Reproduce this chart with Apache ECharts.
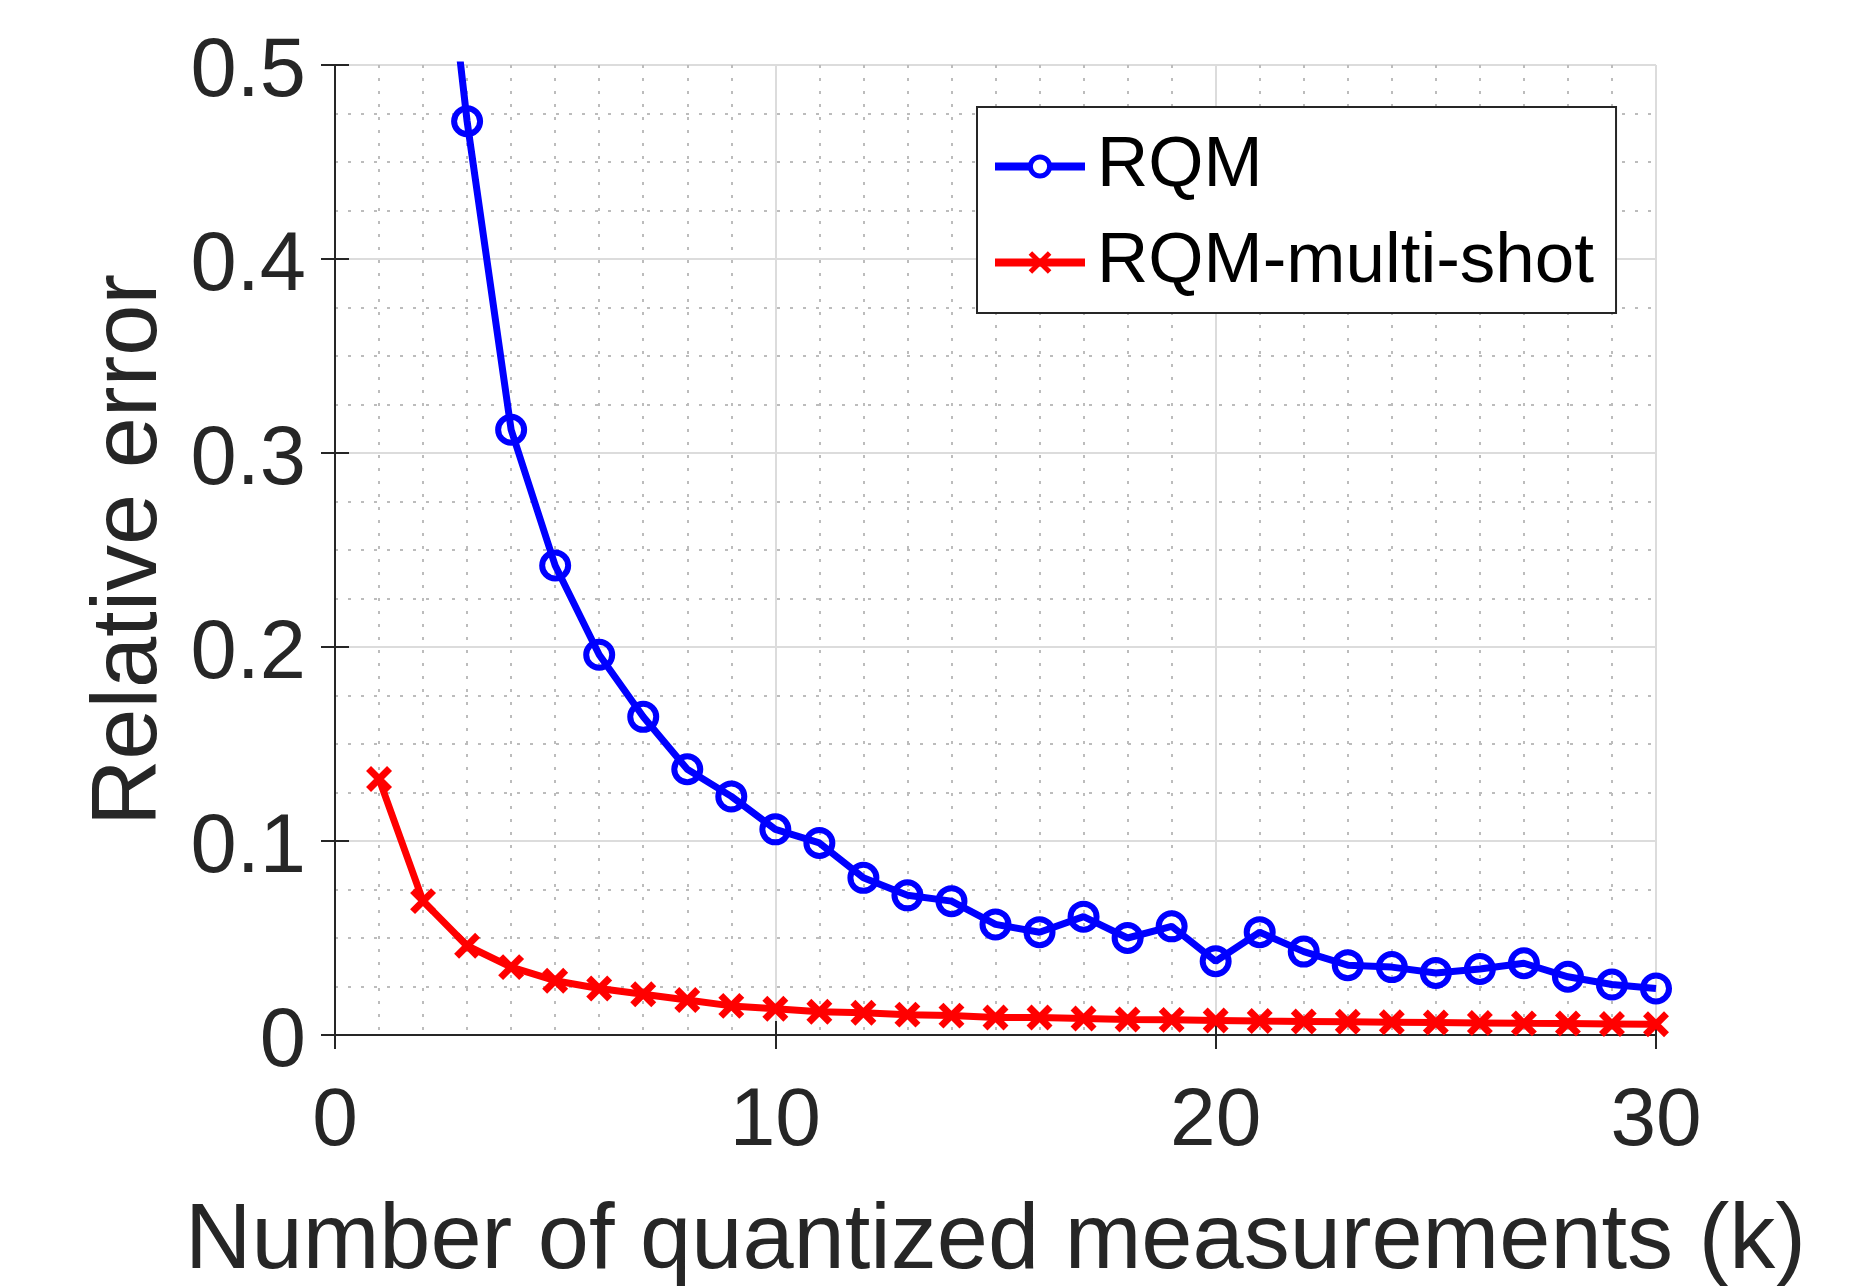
<!DOCTYPE html>
<html>
<head>
<meta charset="utf-8">
<script src="https://cdn.jsdelivr.net/npm/echarts@6/dist/echarts.min.js"></script>
<style>
html,body{margin:0;padding:0;background:#fff;}
#chart{width:1859px;height:1286px;}
</style>
</head>
<body>
<div id="chart"></div>
<script>
const kValues = [1,2,3,4,5,6,7,8,9,10,11,12,13,14,15,16,17,18,19,20,21,22,23,24,25,26,27,28,29,30];
const rqm = [1.0,0.67,0.471,0.312,0.242,0.196,0.164,0.137,0.123,0.106,0.099,0.081,0.072,0.069,0.057,0.053,0.061,0.050,0.056,0.038,0.053,0.043,0.036,0.035,0.032,0.034,0.037,0.030,0.026,0.024];
const rqmMulti = [0.132,0.069,0.046,0.035,0.028,0.024,0.021,0.018,0.015,0.0135,0.012,0.0115,0.0105,0.010,0.009,0.009,0.0085,0.008,0.0078,0.0075,0.0072,0.007,0.0068,0.0066,0.0064,0.0062,0.006,0.0059,0.0057,0.0055];
const seriesNames = ['RQM','RQM-multi-shot'];
const xAxisTitle = 'Number of quantized measurements (k)';
const yAxisTitle = 'Relative error';

const chart = echarts.init(document.getElementById('chart'), null, {renderer:'canvas'});
const font = '"Liberation Sans", Arial, Helvetica, sans-serif';
const axisColor = '#262626';
const crossPath = 'path://M0,0 L10,10 M10,0 L0,10';

const gridLine = {show:true, lineStyle:{color:'#dcdcdc', width:2, type:'solid'}};
const minorGrid = {show:true, lineStyle:{color:'#bcbcbc', width:2, type:[3,10]}};

const option = {
  backgroundColor:'#fff',
  animation:false,
  grid:{left:335, top:65, width:1321, height:970, containLabel:false, outerBoundsMode:'none'},
  legend:{
    orient:'vertical', left:977, top:107,
    padding:[24,22,15,14], itemGap:25, itemWidth:90, itemHeight:24,
    backgroundColor:'#fff', borderColor:axisColor, borderWidth:2, borderRadius:0,
    textStyle:{fontFamily:font, fontSize:71, color:'#000', padding:[0,0,0,7]},
    lineStyle:{width:8},
    itemStyle:{borderWidth:5},
    data:[
      {name:seriesNames[0],
        itemStyle:{color:'#ffffff', borderColor:'#0000ff', borderWidth:5},
        lineStyle:{color:'#0000ff', width:8}},
      {name:seriesNames[1],
        itemStyle:{color:'#ff0000', borderColor:'#ff0000', borderWidth:5},
        lineStyle:{color:'#ff0000', width:8}}
    ]
  },
  xAxis:[{
    type:'value', min:0, max:30, interval:10,
    name:xAxisTitle, nameLocation:'middle', nameGap:162,
    nameTextStyle:{fontFamily:font, fontSize:92, color:axisColor},
    axisLine:{show:true, lineStyle:{color:axisColor, width:2}},
    axisTick:{show:true, inside:true, length:14, lineStyle:{color:axisColor, width:2}},
    axisLabel:{fontFamily:font, fontSize:82, color:axisColor, margin:46},
    splitLine:gridLine,
    minorTick:{show:false, splitNumber:10},
    minorSplitLine:minorGrid
  },{
    type:'value', min:0, max:30, interval:10, position:'top',
    axisLine:{show:true, lineStyle:{color:axisColor, width:2}},
    axisTick:{show:true, inside:true, length:14, lineStyle:{color:axisColor, width:2}},
    axisLabel:{show:false}, splitLine:{show:false}
  }],
  yAxis:[{
    type:'value', min:0, max:0.5, interval:0.1,
    name:yAxisTitle, nameLocation:'middle', nameGap:158,
    nameTextStyle:{fontFamily:font, fontSize:92, color:axisColor},
    axisLine:{show:true, lineStyle:{color:axisColor, width:2}},
    axisTick:{show:true, inside:true, length:14, lineStyle:{color:axisColor, width:2}},
    axisLabel:{fontFamily:font, fontSize:83, color:axisColor, margin:29,
      formatter:function(v){return '{t|' + (v===0?'0':v.toFixed(1)) + '}';},
      rich:{t:{fontFamily:font, fontSize:83, color:axisColor, padding:[16,0,0,0]}}},
    splitLine:gridLine,
    minorTick:{show:false, splitNumber:4},
    minorSplitLine:minorGrid
  },{
    type:'value', min:0, max:0.5, interval:0.1, position:'right',
    axisLine:{show:true, lineStyle:{color:axisColor, width:2}},
    axisTick:{show:true, inside:true, length:14, lineStyle:{color:axisColor, width:2}},
    axisLabel:{show:false}, splitLine:{show:false}
  }],
  series:[{
    name:seriesNames[0], type:'line', xAxisIndex:0, yAxisIndex:0,
    data:kValues.map((k,i)=>[k,rqm[i]]),
    clip:true,
    symbol:'circle', symbolSize:26,
    lineStyle:{color:'#0000ff', width:7},
    itemStyle:{color:'rgba(255,255,255,0)', borderColor:'#0000ff', borderWidth:6},
    z:3
  },{
    name:seriesNames[1], type:'line', xAxisIndex:0, yAxisIndex:0,
    data:kValues.map((k,i)=>[k,rqmMulti[i]]),
    clip:false,
    symbol:crossPath, symbolSize:21,
    lineStyle:{color:'#ff0000', width:7},
    itemStyle:{color:'#ff0000', borderColor:'#ff0000', borderWidth:7},
    z:4
  }]
};
chart.setOption(option);
</script>
</body>
</html>
